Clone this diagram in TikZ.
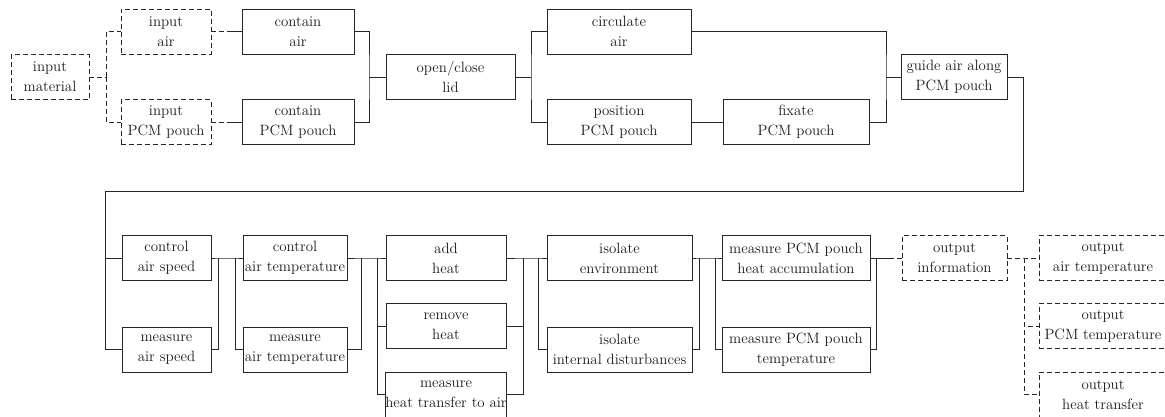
\documentclass[tikz,border=0pt]{standalone}
\usetikzlibrary{calc}
\begin{document}
\begin{tikzpicture}[x=1pt,y=-1pt,
  fn/.style={draw=black!85, line width=0.9pt, minimum height=45pt, inner sep=0pt,
    align=center, text=black!90, font=\fontsize{14.9}{20}\selectfont},
  io/.style={fn, dash pattern=on 5pt off 3pt},
  ln/.style={draw=black!85, line width=0.9pt},
  dl/.style={ln, dash pattern=on 5pt off 3pt}]
\useasboundingbox (0,0) rectangle (1165,416);
\clip (0,0) rectangle (1165,416);

% ---- upper chain ----
\node[io, minimum width=78pt]  (inmat) at (50,77)    {input\\material};
\node[io, minimum width=90pt]  (inair) at (166,31.5) {input\\air};
\node[io, minimum width=90pt]  (inpcm) at (166,122)  {input\\PCM pouch};
\node[fn, minimum width=112pt] (cair)  at (298,31.5) {contain\\air};
\node[fn, minimum width=112pt] (cpcm)  at (298,122)  {contain\\PCM pouch};
\node[fn, minimum width=129pt] (lid)   at (450.5,77) {open/close\\lid};
\node[fn, minimum width=144pt] (circ)  at (619,31.5) {circulate\\air};
\node[fn, minimum width=144pt] (pos)   at (619,122)  {position\\PCM pouch};
\node[fn, minimum width=146pt] (fix)   at (796,122)  {fixate\\PCM pouch};
\node[fn, minimum width=106pt] (guide) at (954,77)   {guide air along\\PCM pouch};

% ---- lower chain ----
\node[fn, minimum width=89pt]  (cspeed) at (166.5,258)   {control\\air speed};
\node[fn, minimum width=89pt]  (mspeed) at (166.5,349.5) {measure\\air speed};
\node[fn, minimum width=104pt] (ctemp)  at (295,258)     {control\\air temperature};
\node[fn, minimum width=104pt] (mtemp)  at (295,349.5)   {measure\\air temperature};
\node[fn, minimum width=120pt] (add)    at (446,258)     {add\\heat};
\node[fn, minimum width=120pt] (rem)    at (446,326)     {remove\\heat};
\node[fn, minimum width=120pt] (mheat)  at (446,394.5)   {measure\\heat transfer to air};
\node[fn, minimum width=145pt] (isoenv) at (619.5,258)   {isolate\\environment};
\node[fn, minimum width=145pt] (isoint) at (619.5,349.5) {isolate\\internal disturbances};
\node[fn, minimum width=148pt] (macc)   at (796,258)     {measure PCM pouch\\heat accumulation};
\node[fn, minimum width=148pt] (mpt)    at (796,349.5)   {measure PCM pouch\\temperature};
\node[io, minimum width=105pt] (outinfo) at (954.5,258)  {output\\information};
\node[io, minimum width=128pt] (outair)  at (1103,258)   {output\\air temperature};
\node[io, minimum width=128pt] (outpcm)  at (1103,326)   {output\\PCM temperature};
\node[io, minimum width=128pt] (outheat) at (1103,394.5) {output\\heat transfer};

% ---- junction points ----
\coordinate (b1) at (106,77);
\coordinate (m1) at (369,77);
\coordinate (s2) at (531,77);
\coordinate (m2) at (886,77);
\coordinate (l1) at (1023,191);
\coordinate (l2) at (105,191);
\coordinate (m3) at (218,258);
\coordinate (s3) at (235,258);
\coordinate (m4) at (361,258);
\coordinate (s4) at (377,258);
\coordinate (m5) at (523,258);
\coordinate (s5) at (538,258);
\coordinate (m6) at (699,258);
\coordinate (s6) at (715,258);
\coordinate (m7) at (876,258);
\coordinate (s7) at (1024,258);
\coordinate (h1) at ($(inair.east)!0.5!(cair.west)$);
\coordinate (h2) at ($(inpcm.east)!0.5!(cpcm.west)$);
\coordinate (h3) at ($(m7)!0.5!(outinfo.west)$);

% ---- upper connectors ----
\draw[dl] (inmat.east) -- (b1);
\draw[dl] (b1) |- (inair.west);
\draw[dl] (b1) |- (inpcm.west);
\draw[dl] (inair.east) -- (h1);
\draw[ln] (h1) -- (cair.west);
\draw[dl] (inpcm.east) -- (h2);
\draw[ln] (h2) -- (cpcm.west);
\draw[ln] (cair.east) -| (m1) |- (cpcm.east);
\draw[ln] (m1) -- (lid.west);
\draw[ln] (lid.east) -- (s2);
\draw[ln] (circ.west) -| (s2) |- (pos.west);
\draw[ln] (pos.east) -- (fix.west);
\draw[ln] (circ.east) -| (m2) |- (fix.east);
\draw[ln] (m2) -- (guide.west);

% ---- return line ----
\draw[ln] (guide.east) -| (l1) -- (l2) |- (cspeed.west);
\draw[ln] (l2) |- (mspeed.west);

% ---- lower connectors ----
\draw[ln] (cspeed.east) -- (m3) -- (s3) -- (ctemp.west);
\draw[ln] (m3) |- (mspeed.east);
\draw[ln] (s3) |- (mtemp.west);
\draw[ln] (ctemp.east) -- (m4) -- (s4) -- (add.west);
\draw[ln] (m4) |- (mtemp.east);
\draw[ln] (s4) |- (rem.west);
\draw[ln] (s4) |- (mheat.west);
\draw[ln] (add.east) -- (m5) -- (s5) -- (isoenv.west);
\draw[ln] (m5) |- (rem.east);
\draw[ln] (m5) |- (mheat.east);
\draw[ln] (s5) |- (isoint.west);
\draw[ln] (isoenv.east) -- (m6) -- (s6) -- (macc.west);
\draw[ln] (m6) |- (isoint.east);
\draw[ln] (s6) |- (mpt.west);
\draw[ln] (macc.east) -- (m7) |- (mpt.east);
\draw[ln] (m7) -- (h3);
\draw[dl] (h3) -- (outinfo.west);
\draw[dl] (outinfo.east) -- (s7) -- (outair.west);
\draw[dl] (s7) |- (outpcm.west);
\draw[dl] (s7) |- (outheat.west);
\end{tikzpicture}
\end{document}
